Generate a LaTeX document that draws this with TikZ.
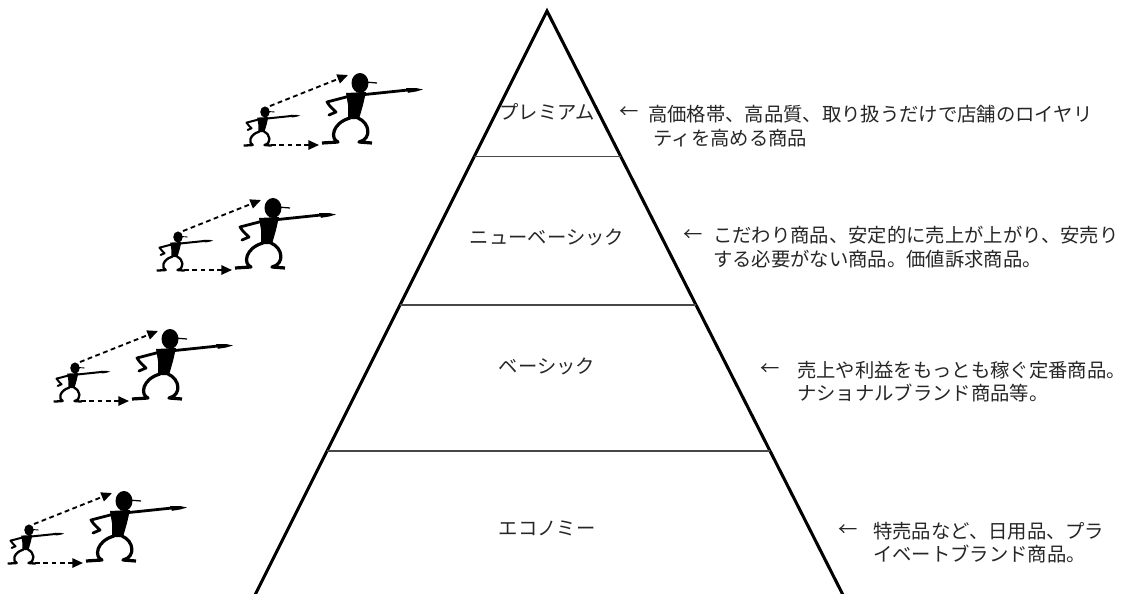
\documentclass[tikz,border=0pt]{standalone}
\usepackage{fontspec}
\setmainfont{Noto Sans CJK JP}
\usetikzlibrary{calc,arrows.meta}

% A pointing stick man; #1,#2 head centre, #3 scale, #4 limb width
\newcommand{\pointerman}[4]{%
  \begin{scope}[shift={(#1,#2)},scale=#3]
    \fill (0,0) ellipse [x radius=8.5, y radius=10];
    \draw[line width=0.45*#4] (5,-1) -- (17,0);
    \fill (-14,10) -- (6,9) -- (3,22) -- (-1,36) -- (-12,36) -- (-12,22) -- cycle;
    \draw[line width=#4] (0,12) -- (48,7);
    \fill (46,5) -- (56,5) -- (63,6.5) -- (56,8.5) -- (48,9.8) -- cycle;
    \draw[line width=#4, line join=round, line cap=round]
      (-10,13) -- (-33,19) .. controls (-30,24) and (-26,27) .. (-24,29) -- (-31,32);
    \draw[line width=1.15*#4, line join=round]
      (-10,35) .. controls (-28,40) and (-30,56) .. (-22,59) -- (-38,60);
    \draw[line width=1.15*#4, line join=round]
      (-2,35) .. controls (10,40) and (12,56) .. (-1,59) -- (12,60);
  \end{scope}}

\tikzset{
  tier/.style={font=\fontsize{14.5}{17.8}\selectfont, text=black!85, inner sep=0pt},
  note/.style={tier, align=left, anchor=west},
  edge/.style={line width=2.3pt, line join=miter},
  tierline/.style={line width=1.1pt, draw=black!72},
  leap/.style={line width=1.4pt, dash pattern=on 3.6pt off 2.6pt,
    -{Triangle[length=8pt,width=7pt]}}
}

\begin{document}
\begin{tikzpicture}[x=0.75pt,y=-0.75pt]
  \useasboundingbox (0,0) rectangle (1137,593);
  \clip (0,0) rectangle (1137,593);

  % pyramid outline
  \coordinate (apex) at (547,11);
  \coordinate (bl) at (256,593);
  \coordinate (br) at (842,593);
  \draw[edge] ($(apex)!1.03!(bl)$) -- (apex) -- ($(apex)!1.03!(br)$);

  % tier boundaries
  \foreach \k/\t in {1/0.25, 2/0.505, 3/0.756} {
    \coordinate (tl\k) at ($(apex)!\t!(bl)$);
    \coordinate (tr\k) at ($(apex)!\t!(br)$);
    \draw[tierline] (tl\k) -- (tr\k);
  }

  % tier names
  \node[tier] (lbl1) at (547,112) {プレミアム};
  \node[tier] (lbl2) at (547,237) {ニューベーシック};
  \node[tier] (lbl3) at (547,366) {ベーシック};
  \node[tier] (lbl4) at (547,528) {エコノミー};

  % descriptions
  \node[tier] (arr1) at (629,113) {←};
  \node[note] (txt1) at (648,126) {高価格帯、高品質、取り扱うだけで店舗のロイヤリ\\\hspace*{4pt}ティを高める商品};
  \node[tier] (arr2) at (693,236) {←};
  \node[note] (txt2) at (713,247) {こだわり商品、安定的に売上が上がり、安売り\\する必要がない商品。価値訴求商品。};
  \node[tier] (arr3) at (770,370) {←};
  \node[note] (txt3) at (797,381.5) {売上や利益をもっとも稼ぐ定番商品。\\ナショナルブランド商品等。};
  \node[tier] (arr4) at (848,531) {←};
  \node[note] (txt4) at (873,542.5) {特売品など、日用品、プラ\\イベートブランド商品。};

  % small man stepping up to big man, one pair per tier
  \foreach \i/\gx/\gy in {1/360/83, 2/273/208, 3/170/339, 4/124/501} {
    \coordinate (g\i) at (\gx,\gy);
    \pointerman{\gx}{\gy}{1}{2.1pt}
    \pointerman{\gx-95}{\gy+29}{0.56}{1.5pt}
    \coordinate (ua\i) at ($(g\i)+(-90,23)$);
    \coordinate (ub\i) at ($(g\i)+(-12,-8)$);
    \coordinate (la\i) at ($(g\i)+(-89,62)$);
    \coordinate (lb\i) at ($(g\i)+(-41,62)$);
    \draw[leap] (ua\i) -- (ub\i);
    \draw[leap] (la\i) -- (lb\i);
  }
\end{tikzpicture}
\end{document}
